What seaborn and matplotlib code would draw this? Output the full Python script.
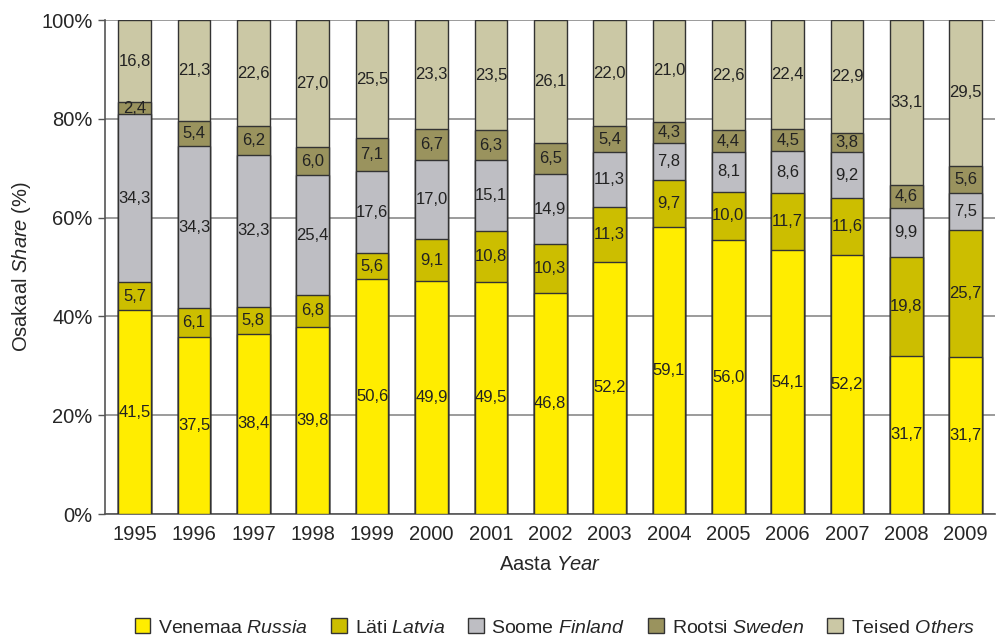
import numpy as np
import pandas as pd
import matplotlib
matplotlib.use("Agg")
import matplotlib.pyplot as plt
import seaborn as sns
from matplotlib.patches import Patch

years = [str(y) for y in range(1995, 2010)]
russia = [41.5, 37.5, 38.4, 39.8, 50.6, 49.9, 49.5, 46.8, 52.2, 59.1, 56.0, 54.1, 52.2, 31.7, 31.7]
latvia = [5.7, 6.1, 5.8, 6.8, 5.6, 9.1, 10.8, 10.3, 11.3, 9.7, 10.0, 11.7, 11.6, 19.8, 25.7]
finland = [34.3, 34.3, 32.3, 25.4, 17.6, 17.0, 15.1, 14.9, 11.3, 7.8, 8.1, 8.6, 9.2, 9.9, 7.5]
sweden = [2.4, 5.4, 6.2, 6.0, 7.1, 6.7, 6.3, 6.5, 5.4, 4.3, 4.4, 4.5, 3.8, 4.6, 5.6]
others = [16.8, 21.3, 22.6, 27.0, 25.5, 23.3, 23.5, 26.1, 22.0, 21.0, 22.6, 22.4, 22.9, 33.1, 29.5]

names = ["Venemaa", "Läti", "Soome", "Rootsi", "Teised"]
names_en = ["Russia", "Latvia", "Finland", "Sweden", "Others"]
colors = ["#FFED00", "#CCBE00", "#BEBEC3", "#9A935E", "#CBC8A5"]

fam = "Liberation Sans"

sns.set_style("white")
plt.rcParams['font.family'] = [fam, 'DejaVu Sans']
plt.rcParams['mathtext.fontset'] = 'custom'
plt.rcParams['mathtext.rm'] = fam
plt.rcParams['mathtext.it'] = fam + ':italic'

df = pd.DataFrame({"year": years, "russia": russia, "latvia": latvia,
                   "finland": finland, "sweden": sweden, "others": others})
cols = ["russia", "latvia", "finland", "sweden", "others"]
# labels are the published values, bars are scaled to 100%
tot = df[cols].sum(axis=1)
share = df[cols].div(tot, axis=0) * 100
cum = share.cumsum(axis=1)

fig = plt.figure(figsize=(9.96, 6.39), dpi=100)
ax = fig.add_axes([0.1054, 0.1956, 0.894, 0.7731])

for i in range(len(cols) - 1, -1, -1):
    c = cols[i]
    sns.barplot(x=df["year"], y=cum[c], order=years, color=colors[i], width=0.55,
                saturation=1, edgecolor="#333333", linewidth=1.0, ax=ax, zorder=3)

for i, c in enumerate(cols):
    base = cum[c] - share[c]
    for j in range(len(years)):
        val = df[c][j]
        ax.text(j, base[j] + share[c][j] / 2, ("%.1f" % val).replace(".", ","),
                ha="center", va="center", fontsize=12, color="#222222", zorder=5)

ax.set_ylim(0, 100)
ax.set_xlim(-0.5, len(years) - 0.5)
ax.set_yticks(range(0, 101, 20))
ax.set_yticklabels(["%d%%" % v for v in range(0, 101, 20)], fontsize=14.5)
ax.yaxis.grid(True, color="#8a8a8a", linewidth=1.2, zorder=0)
ax.set_axisbelow(True)
ax.tick_params(axis="x", length=0, labelsize=14.5, pad=8)
ax.set_xticks(np.arange(-0.5, len(years), 1), minor=True)
ax.tick_params(axis="x", which="minor", length=6, color="#555555", width=1, direction="out")
ax.tick_params(axis="y", length=5, color="#555555", width=1, direction="out", left=True, pad=4)
for s in ["top", "right"]:
    ax.spines[s].set_visible(False)
for s in ["left", "bottom"]:
    ax.spines[s].set_color("#555555")
    ax.spines[s].set_linewidth(1.2)

ax.set_xlabel(r"Aasta $\it{Year}$", fontsize=14.5, labelpad=8)
ax.set_ylabel(r"Osakaal $\it{Share}$ (%)", fontsize=14.5, labelpad=6)

handles = [Patch(facecolor=colors[i], edgecolor="#333333", linewidth=1.0) for i in range(5)]
labels = [r"%s $\it{%s}$" % (names[i], names_en[i]) for i in range(5)]
fig.legend(handles, labels, loc="center", bbox_to_anchor=(0.557, 0.018), ncol=5,
           frameon=False, fontsize=14, handlelength=0.8, handleheight=0.8,
           handletextpad=0.4, columnspacing=1.2)

fig.savefig("out.png", dpi=100)
